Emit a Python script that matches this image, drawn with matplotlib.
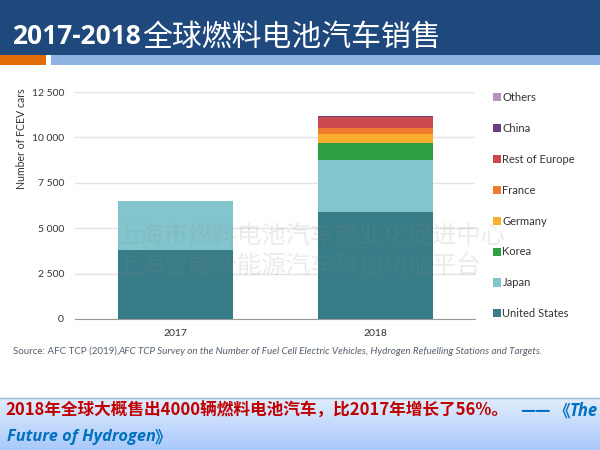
import numpy as np
import matplotlib
matplotlib.use('AGG')
import matplotlib.pyplot as plt
from matplotlib.patches import Rectangle

CJK = 'Noto Sans CJK SC'
plt.rcParams['font.family'] = ['Lato', CJK, 'DejaVu Sans']

years = ['2017', '2018']
united_states = [3800, 5900]
japan = [2700, 2850]
korea = [0, 950]
germany = [0, 500]
france = [0, 320]
rest_of_europe = [0, 600]
china = [0, 60]
others = [0, 20]

series = [
    ('United States', united_states, '#387C87'),
    ('Japan', japan, '#82C5CC'),
    ('Korea', korea, '#2CA043'),
    ('Germany', germany, '#FAAE2D'),
    ('France', france, '#EE7B2F'),
    ('Rest of Europe', rest_of_europe, '#CB4A4E'),
    ('China', china, '#693F7F'),
    ('Others', others, '#B794BE'),
]
yticks = [0, 2500, 5000, 7500, 10000, 12500]
ytick_labels = ['0', '2 500', '5 000', '7 500', '10 000', '12 500']

W, H = 600, 450
fig = plt.figure(figsize=(6, 4.5), dpi=100, facecolor='white')

# background layer in pixel coordinates
bg = fig.add_axes([0, 0, 1, 1], zorder=0)
bg.axis('off')
bg.add_patch(Rectangle((0, 0), W, 55, color='#1F497D', lw=0))
bg.add_patch(Rectangle((0, 55), 46, 10, color='#E36C0A', lw=0))
bg.add_patch(Rectangle((51, 55), 549, 10, color='#8DB3E2', lw=0))
grad = np.linspace(0, 1, 64).reshape(-1, 1)
cmap = matplotlib.colors.LinearSegmentedColormap.from_list('box', ['#E2EDFC', '#A9C9FB'])
bg.imshow(grad, extent=(0, W, 450, 398), cmap=cmap, aspect='auto', zorder=1)
bg.plot([0, W], [397.5, 397.5], color='#9DB5D6', lw=1, zorder=2)
bg.set_xlim(0, W)
bg.set_ylim(H, 0)

# chart
ax = fig.add_axes([75 / W, 1 - 319 / H, 400 / W, 227 / H], zorder=1)
ax.patch.set_alpha(0)
x = np.arange(len(years))
bottom = np.zeros(len(years))
handles = []
for name, vals, color in series:
    bars = ax.bar(x, vals, 0.575, bottom=bottom, color=color, label=name, zorder=3)
    bottom = bottom + np.array(vals)
    handles.append(bars)
ax.set_xlim(-0.5, 1.5)
ax.set_ylim(0, 12500)
ax.set_xticks(x, years)
ax.set_yticks(yticks, ytick_labels)
ax.grid(axis='y', color='#E3E3E3', lw=1, zorder=0)
ax.set_axisbelow(True)
for s in ax.spines.values():
    s.set_visible(False)
ax.spines['bottom'].set_visible(True)
ax.spines['bottom'].set_color('#9A9A9A')
ax.tick_params(length=0, labelsize=7.5, labelcolor='#333333')
ax.tick_params(axis='x', pad=7.5)
ax.tick_params(axis='y', pad=8)

# legend keeps the reversed stack order
leg = ax.legend(
    handles[::-1], [s[0] for s in series][::-1],
    loc='upper left', bbox_to_anchor=(493 / W, 1 - 92 / H), bbox_transform=fig.transFigure,
    frameon=False, fontsize=8, handlelength=0.75, handleheight=0.75, handletextpad=0.1,
    labelspacing=1.79, borderpad=0, borderaxespad=0,
)
for t in leg.get_texts():
    t.set_color('#333333')

# overlay text in pixel coordinates
fg = fig.add_axes([0, 0, 1, 1], zorder=2)
fg.set_xlim(0, W)
fg.set_ylim(H, 0)
fg.axis('off')
fg.patch.set_alpha(0)

fg.text(22, 139, 'Number of FCEV cars', color='#333333', fontsize=7.6, rotation=90,
        va='center', ha='center')

fg.text(12, 37, '2017-2018', color='white', fontsize=19, fontweight='bold',
        family='Open Sans', va='center', ha='left')
fg.text(142, 37, '全球燃料电池汽车销售', color='white', fontsize=21.5,
        family=CJK, va='center', ha='left')

fg.text(116, 236, '上海市燃料电池汽车商业化促进中心', color='#888888', alpha=0.16,
        fontsize=17.6, fontweight='light', family=CJK, va='center', ha='left')
fg.text(116, 267, '上海智能新能源汽车科创功能平台', color='#888888', alpha=0.16,
        fontsize=17.6, fontweight='light', family=CJK, va='center', ha='left')

fg.text(13, 351, 'Source: AFC TCP (2019), ', color='#55606E', fontsize=7, va='center', ha='left')
fg.text(118, 351, 'AFC TCP Survey on the Number of Fuel Cell Electric Vehicles, Hydrogen Refuelling Stations and Targets.',
        color='#55606E', fontsize=7.15, style='italic', va='center', ha='left')

fg.text(5, 411, '2018年全球大概售出4000辆燃料电池汽车\uff0c比2017年增长了56%。',
        color='#C00000', fontsize=12, fontweight='bold', family=CJK, va='center', ha='left')
fg.text(520, 411, '——', color='#0070C0', fontsize=12, fontweight='bold', family=CJK, va='center', ha='left')
fg.text(553, 411, '《', color='#0070C0', fontsize=12, fontweight='bold', family=CJK, va='center', ha='left')
fg.text(570, 411, 'The', color='#0070C0', fontsize=12, fontweight='bold', style='italic',
        family='Open Sans', va='center', ha='left')
fg.text(7, 437, 'Future of Hydrogen', color='#0070C0', fontsize=11.8, fontweight='bold', style='italic',
        family='Open Sans', va='center', ha='left')
fg.text(155, 437, '》', color='#0070C0', fontsize=12, fontweight='bold', family=CJK, va='center', ha='left')

fig.savefig('out.png', dpi=100)
